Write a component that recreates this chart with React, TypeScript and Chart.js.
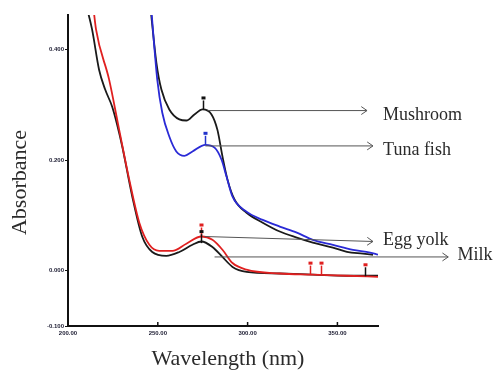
import React, { useEffect, useRef } from "react";
import { Chart, registerables } from "chart.js";
Chart.register(...registerables);

// Wavelength (nm) / absorbance readings
const milkX = [210.2, 213.4, 217.3, 220.7, 224.6, 227.4, 230.2, 235.8, 241.3, 246.9, 254.7, 262.0, 269.3, 274.3, 280.4, 286.0, 291.6, 299.4, 317.9, 336.3, 355.3, 372.6];
const milkY = [0.48, 0.437, 0.364, 0.328, 0.297, 0.264, 0.225, 0.134, 0.062, 0.034, 0.027, 0.034, 0.047, 0.053, 0.043, 0.025, 0.007, -0.002, -0.005, -0.007, -0.009, -0.009];

const eggX = [214.0, 215.6, 222.9, 228.5, 234.1, 239.7, 245.3, 250.8, 258.1, 265.9, 274.3, 280.4, 286.0, 291.6, 299.4, 317.9, 336.3, 355.3, 372.6];
const eggY = [0.48, 0.437, 0.346, 0.255, 0.165, 0.087, 0.047, 0.036, 0.036, 0.049, 0.062, 0.056, 0.038, 0.014, 0.002, -0.005, -0.007, -0.009, -0.011];

const mushX = [245.8, 249.2, 252.0, 256.4, 262.0, 265.9, 270.4, 274.9, 279.9, 283.2, 286.0, 288.8, 292.7, 299.4, 308.4, 317.9, 327.4, 336.3, 347.5, 355.3, 364.2, 369.8];
const mushY = [0.48, 0.377, 0.328, 0.292, 0.274, 0.272, 0.283, 0.292, 0.283, 0.255, 0.207, 0.165, 0.129, 0.105, 0.087, 0.071, 0.060, 0.051, 0.042, 0.034, 0.031, 0.029];

const tunaX = [246.2, 249.7, 252.5, 256.4, 260.3, 264.8, 269.3, 276.5, 281.6, 285.5, 288.3, 291.6, 299.4, 308.4, 317.9, 327.4, 336.3, 347.5, 358.7, 368.2, 372.6];
const tunaY = [0.48, 0.346, 0.286, 0.243, 0.216, 0.208, 0.216, 0.228, 0.223, 0.201, 0.170, 0.134, 0.107, 0.092, 0.080, 0.069, 0.056, 0.047, 0.038, 0.033, 0.029];

const xTicks = [200, 250, 300, 350];
const yTicks = [-0.1, 0, 0.2, 0.4];

// Peak-pick markers
const peakX = [274.9, 276.5, 274.3, 274.3, 334.6, 340.8, 365.4];
const peakY = [0.292, 0.228, 0.062, 0.050, -0.007, -0.007, -0.010];
const peakColor = ["#111", "#2233cc", "#e02020", "#111", "#e02020", "#e02020", "#111"];
const peakLabelColor = ["#111", "#2233cc", "#e02020", "#111", "#e02020", "#e02020", "#e02020"];

// Annotation arrows
const arrowLabels = ["Mushroom", "Tuna fish", "Egg yolk", "Milk"];
const arrowX0 = [277.7, 276.5, 276.0, 281.6];
const arrowY0 = [0.290, 0.226, 0.062, 0.025];
const arrowX1 = [366.5, 369.8, 369.8, 411.7];
const arrowY1 = [0.290, 0.226, 0.053, 0.025];
const labelX = [375.4, 375.4, 375.4, 416.8];
const labelY = [0.2736, 0.210, 0.047, 0.020];

const pts = (xs: number[], ys: number[]) => xs.map((x, i) => ({ x, y: ys[i] }));

const decorPlugin = {
  id: "decor",
  afterDatasetsDraw(chart: any) {
    const { ctx, scales, chartArea } = chart;
    const xs = scales.x, ys = scales.y;
    ctx.save();
    // inward x tick marks
    ctx.strokeStyle = "#111";
    ctx.lineWidth = 1.5;
    xTicks.forEach((v) => {
      const px = xs.getPixelForValue(v);
      ctx.beginPath();
      ctx.moveTo(px, chartArea.bottom);
      ctx.lineTo(px, chartArea.bottom - 4);
      ctx.stroke();
    });
    // peak markers
    peakX.forEach((v, i) => {
      const px = Math.round(xs.getPixelForValue(v)) + 0.5;
      const py = ys.getPixelForValue(peakY[i]);
      ctx.strokeStyle = peakColor[i];
      ctx.lineWidth = 1.5;
      ctx.beginPath();
      ctx.moveTo(px, py);
      ctx.lineTo(px, py - 9);
      ctx.stroke();
      ctx.fillStyle = peakLabelColor[i];
      ctx.fillRect(px - 2, py - 13, 4, 3);
    });
    // arrows
    ctx.strokeStyle = "#555";
    ctx.lineWidth = 1;
    arrowLabels.forEach((lab, i) => {
      const x0 = xs.getPixelForValue(arrowX0[i]);
      const y0 = ys.getPixelForValue(arrowY0[i]);
      const x1 = xs.getPixelForValue(arrowX1[i]);
      const y1 = ys.getPixelForValue(arrowY1[i]);
      ctx.beginPath();
      ctx.moveTo(x0, y0);
      ctx.lineTo(x1, y1);
      ctx.stroke();
      const a = Math.atan2(y1 - y0, x1 - x0);
      ctx.beginPath();
      ctx.moveTo(x1 - 7 * Math.cos(a - 0.6), y1 - 7 * Math.sin(a - 0.6));
      ctx.lineTo(x1, y1);
      ctx.lineTo(x1 - 7 * Math.cos(a + 0.6), y1 - 7 * Math.sin(a + 0.6));
      ctx.stroke();
      ctx.fillStyle = "#2b2b2b";
      ctx.font = '18px "Liberation Serif"';
      ctx.textAlign = "left";
      ctx.textBaseline = "alphabetic";
      ctx.fillText(lab, xs.getPixelForValue(labelX[i]), ys.getPixelForValue(labelY[i]));
    });
    // axis titles
    ctx.fillStyle = "#2b2b2b";
    ctx.font = '22px "Liberation Serif"';
    ctx.textAlign = "center";
    ctx.textBaseline = "middle";
    ctx.fillText("Wavelength (nm)", (chartArea.left + chartArea.right) / 2 + 5, 359);
    ctx.translate(20, (chartArea.top + chartArea.bottom) / 2 + 12);
    ctx.rotate(-Math.PI / 2);
    ctx.fillText("Absorbance", 0, 0);
    ctx.restore();
  },
};

export default function App() {
  const ref = useRef<HTMLCanvasElement>(null);
  useEffect(() => {
    const line = (data: any, color: string) => ({
      data,
      borderColor: color,
      borderWidth: 1.8,
      pointRadius: 0,
      cubicInterpolationMode: "monotone",
      fill: false,
    });
    const chart = new Chart(ref.current!, {
      type: "line",
      data: {
        datasets: [
          line(pts(eggX, eggY), "#e02020"),
          line(pts(milkX, milkY), "#1a1a1a"),
          line(pts(tunaX, tunaY), "#2a2ad6"),
          line(pts(mushX, mushY), "#1a1a1a"),
        ] as any,
      },
      options: {
        animation: false,
        responsive: false,
        layout: { padding: { left: 0, right: 120, top: 15, bottom: 0 } },
        plugins: { legend: { display: false }, tooltip: { enabled: false } },
        scales: {
          x: {
            type: "linear",
            min: 200,
            max: 372.6,
            afterBuildTicks: (s: any) => { s.ticks = xTicks.map((v) => ({ value: v })); },
            afterFit: (s: any) => { s.height = 50; },
            border: { color: "#111", width: 2 },
            grid: { drawOnChartArea: false, tickLength: 3, tickColor: "transparent" },
            ticks: {
              autoSkip: false,
              maxRotation: 0,
              padding: 1,
              color: "#1a1a30",
              font: { size: 6, weight: "bold", family: "Arial" },
              callback: (v: any) => Number(v).toFixed(2),
            },
          },
          y: {
            type: "linear",
            min: -0.1,
            max: 0.463,
            afterBuildTicks: (s: any) => { s.ticks = yTicks.map((v) => ({ value: v })); },
            afterFit: (s: any) => { s.width = 68; },
            border: { color: "#111", width: 2 },
            grid: { drawOnChartArea: false, tickLength: 3, tickColor: "#111" },
            ticks: {
              autoSkip: false,
              padding: 1,
              color: "#1a1a30",
              font: { size: 6, weight: "bold", family: "Arial" },
              callback: (v: any) => Number(v).toFixed(3),
            },
          },
        },
      } as any,
      plugins: [decorPlugin],
    });
    return () => chart.destroy();
  }, []);
  return (
    <div style={{ position: "absolute", left: 0, top: 0, width: 498, height: 376, background: "#fff" }}>
      <canvas ref={ref} width={498} height={376} style={{ display: "block" }} />
    </div>
  );
}
